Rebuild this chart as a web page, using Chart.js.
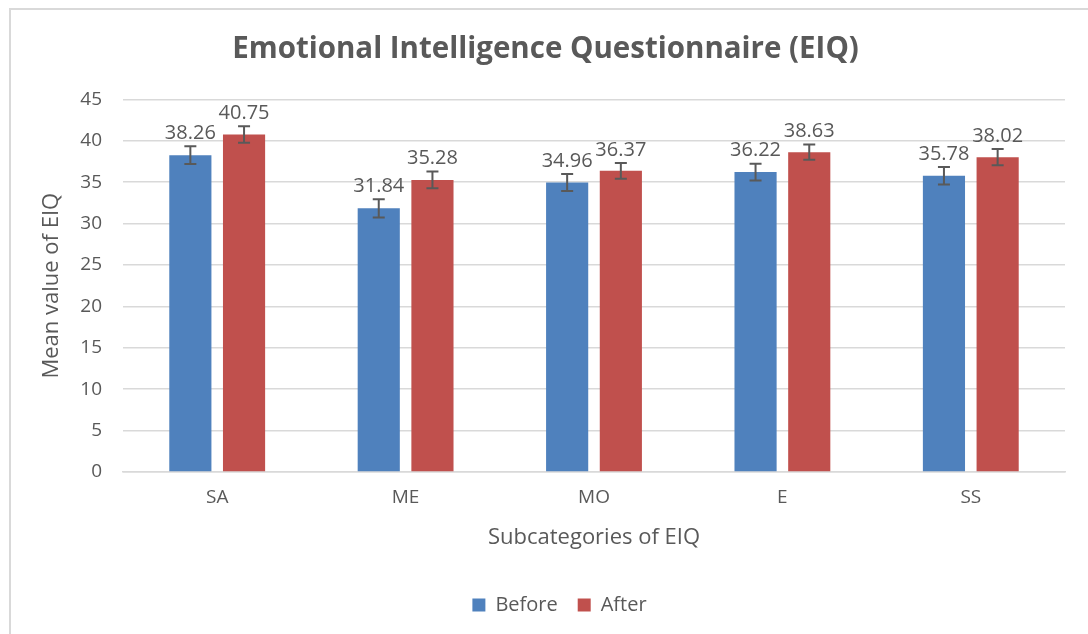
<!DOCTYPE html>
<html>
<head>
<meta charset="utf-8">
<script src="https://cdn.jsdelivr.net/npm/chart.js@4"></script>
<style>
  html, body { margin: 0; padding: 0; background: #fff; }
  #wrap { position: relative; width: 1088px; height: 634px; overflow: hidden; }
  #frame { position: absolute; left: 9px; top: 8px; width: 1100px; height: 640px;
           border-left: 2px solid #d9d9d9; border-top: 2px solid #d9d9d9; box-sizing: border-box; }
  canvas { position: absolute; left: 0; top: 0; }
</style>
</head>
<body>
<div id="wrap">
  <div id="frame"></div>
  <canvas id="eiqChart" width="1088" height="634"></canvas>
</div>
<script>
// data
const categories = ["SA", "ME", "MO", "E", "SS"];
const beforeValues = [38.26, 31.84, 34.96, 36.22, 35.78];
const afterValues = [40.75, 35.28, 36.37, 38.63, 38.02];
const beforeErrors = [1.07, 1.1, 1.03, 1.02, 1.05];
const afterErrors = [1.0, 1.0, 0.96, 0.92, 0.98];
const yTicks = [0, 5, 10, 15, 20, 25, 30, 35, 40, 45];

const FONT = "'Open Sans', sans-serif";
const TEXT = "#595959";

// error bars + value labels on top of each bar
const errorBarPlugin = {
  id: "errorBars",
  afterDatasetsDraw(chart) {
    const ctx = chart.ctx;
    const yScale = chart.scales.y;
    chart.data.datasets.forEach((ds, i) => {
      const meta = chart.getDatasetMeta(i);
      meta.data.forEach((bar, j) => {
        const v = ds.data[j];
        const e = ds.errors[j];
        const yTop = yScale.getPixelForValue(v + e);
        const yBot = yScale.getPixelForValue(v - e);
        ctx.save();
        ctx.strokeStyle = "#595959";
        ctx.lineWidth = 2;
        ctx.beginPath();
        ctx.moveTo(bar.x, yTop);
        ctx.lineTo(bar.x, yBot);
        ctx.moveTo(bar.x - 6, yTop);
        ctx.lineTo(bar.x + 6, yTop);
        ctx.moveTo(bar.x - 6, yBot);
        ctx.lineTo(bar.x + 6, yBot);
        ctx.stroke();
        ctx.fillStyle = TEXT;
        ctx.font = "20px " + FONT;
        ctx.textAlign = "center";
        ctx.textBaseline = "bottom";
        ctx.fillText(v.toFixed(2), bar.x, yTop - 3);
        ctx.restore();
      });
    });
  },
};

// the title and legend sit a little right of the plot centre in the original
const shiftBlocks = {
  id: "shiftBlocks",
  afterLayout(chart) {
    chart.titleBlock.left += 13;
    chart.titleBlock.right += 13;
    chart.legend.left += 27;
    chart.legend.right += 27;
  },
};

new Chart(document.getElementById("eiqChart"), {
  type: "bar",
  data: {
    labels: categories,
    datasets: [
      {
        label: "Before",
        data: beforeValues,
        errors: beforeErrors,
        backgroundColor: "#4F81BD",
        categoryPercentage: 0.57,
        barPercentage: 0.785,
      },
      {
        label: "After",
        data: afterValues,
        errors: afterErrors,
        backgroundColor: "#C0504D",
        categoryPercentage: 0.57,
        barPercentage: 0.785,
      },
    ],
  },
  options: {
    responsive: false,
    animation: false,
    layout: { padding: { left: 0, right: 23, top: 0, bottom: 9 } },
    scales: {
      x: {
        grid: { display: false },
        border: { color: "#d9d9d9", width: 1.5 },
        ticks: { color: TEXT, font: { family: FONT, size: 19 }, padding: 6 },
        title: {
          display: true,
          text: "Subcategories of EIQ",
          color: TEXT,
          font: { family: FONT, size: 22 },
          padding: { top: 0, bottom: 24 },
        },
        afterFit(scale) { scale.height = 103; },
      },
      y: {
        min: 0,
        max: 45,
        afterBuildTicks(scale) { scale.ticks = yTicks.map((v) => ({ value: v })); },
        grid: { color: "#d9d9d9", lineWidth: 1.5, drawTicks: false },
        border: { display: false },
        ticks: { color: TEXT, font: { family: FONT, size: 19 }, padding: 21 },
        title: {
          display: true,
          text: "Mean value of EIQ",
          color: TEXT,
          font: { family: FONT, size: 22 },
          padding: { top: 39, bottom: 0 },
        },
        afterFit(scale) { scale.width = 123; },
      },
    },
    plugins: {
      title: {
        display: true,
        text: "Emotional Intelligence Questionnaire (EIQ)",
        color: TEXT,
        font: { family: FONT, size: 29.5, weight: "bold" },
        padding: { top: 32, bottom: 32 },
      },
      legend: {
        position: "bottom",
        labels: {
          color: TEXT,
          font: { family: FONT, size: 20 },
          boxWidth: 13,
          boxHeight: 13,
          padding: 20,
        },
      },
      tooltip: { enabled: false },
    },
  },
  plugins: [errorBarPlugin, shiftBlocks],
});
</script>
</body>
</html>
